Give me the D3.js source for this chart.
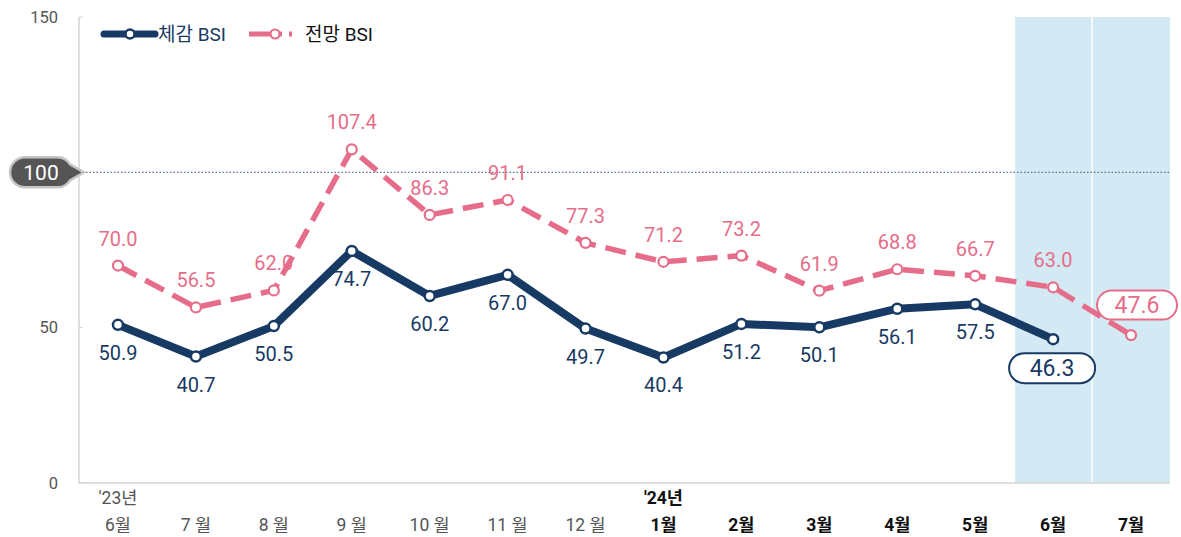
<!DOCTYPE html>
<html><head><meta charset="utf-8">
<script src="https://cdn.jsdelivr.net/npm/d3@7"></script>
<style>body{margin:0;background:#fff}svg{display:block;font-family:Roboto,"Noto Sans CJK KR",sans-serif}</style>
</head><body><svg id="c" width="1181" height="537"></svg>
<script>
const months = ["6월","7 월","8 월","9 월","10 월","11 월","12 월","1월","2월","3월","4월","5월","6월","7월"];
const yearLabels = ["'23년","","","","","","","'24년","","","","","",""];
const boldMonths = [false,false,false,false,false,false,false,true,true,true,true,true,true,true];
const actualBSI = [50.9,40.7,50.5,74.7,60.2,67.0,49.7,40.4,51.2,50.1,56.1,57.5,46.3];
const outlookBSI = [70.0,56.5,62.0,107.4,86.3,91.1,77.3,71.2,73.2,61.9,68.8,66.7,63.0,47.6];
const yTicks = [0,50,100,150];

const svg = d3.select("#c");
const L=79, R=1170, T=17, B=483;
const x = d3.scaleBand().domain(d3.range(months.length)).range([L,R]);
const y = d3.scaleLinear().domain([0,150]).range([B,T]);
const cx = i => x(i)+x.bandwidth()/2;
const NAVY="#173a64", PINK="#e66d89";

// shaded region
svg.append("rect").attr("x",x(12)+1).attr("y",T).attr("width",R-x(12)-1).attr("height",B-T).attr("fill","#d3eaf4");
svg.append("line").attr("x1",x(13)).attr("x2",x(13)).attr("y1",T).attr("y2",B).attr("stroke","#fff").attr("stroke-width",1.5);

// axes
svg.append("line").attr("x1",L).attr("x2",L).attr("y1",T).attr("y2",B).attr("stroke","#d4d4d4").attr("stroke-width",1.5);
svg.append("line").attr("x1",L).attr("x2",R).attr("y1",B).attr("y2",B).attr("stroke","#d4d4d4").attr("stroke-width",1.5);
yTicks.forEach(t=>{
  if(t!==100){
    svg.append("line").attr("x1",L).attr("x2",L+4).attr("y1",y(t)).attr("y2",y(t)).attr("stroke","#d4d4d4");
    svg.append("text").attr("x",58).attr("y",y(t)).attr("dy","0.35em").attr("text-anchor","end").attr("font-size",16.5).attr("fill","#555").text(t);
  }
});
// 100 line
svg.append("line").attr("x1",L).attr("x2",R).attr("y1",y(100)).attr("y2",y(100)).attr("stroke","#5a6f95").attr("stroke-width",1.2).attr("stroke-dasharray","1.5,2");
// 100 callout
const cy100=y(100);
svg.append("path").attr("d",`M25,${cy100-15} H58 A15,15 0 0 1 70,${cy100-8} L84,${cy100} L70,${cy100+8} A15,15 0 0 1 58,${cy100+15} H25 A15,15 0 0 1 25,${cy100-15} Z`)
  .attr("fill","#555").attr("stroke","#c4c4c4").attr("stroke-width",2.5);
svg.append("text").attr("x",41).attr("y",cy100).attr("dy","0.36em").attr("text-anchor","middle").attr("font-size",21).attr("fill","#fff").text("100");

// x labels
months.forEach((m,i)=>{
  svg.append("text").attr("x",cx(i)).attr("y",531).attr("text-anchor","middle").attr("font-size",17.5)
    .attr("font-weight",boldMonths[i]?"bold":"normal").attr("fill",boldMonths[i]?"#111":"#555").text(m);
  if(yearLabels[i]) svg.append("text").attr("x",cx(i)).attr("y",504).attr("text-anchor","middle").attr("font-size",17.5)
    .attr("font-weight",boldMonths[i]?"bold":"normal").attr("fill",boldMonths[i]?"#111":"#555").text(yearLabels[i]);
});

// lines
const line = d3.line().x((d,i)=>cx(i)).y(d=>y(d));
svg.append("path").datum(outlookBSI).attr("d",line).attr("fill","none").attr("stroke",PINK).attr("stroke-width",5.5).attr("stroke-dasharray","21,10");
svg.append("path").datum(actualBSI).attr("d",line).attr("fill","none").attr("stroke",NAVY).attr("stroke-width",8).attr("stroke-linejoin","round");
svg.selectAll(".po").data(outlookBSI).join("circle").attr("cx",(d,i)=>cx(i)).attr("cy",d=>y(d)).attr("r",5).attr("fill","#fff").attr("stroke",PINK).attr("stroke-width",2.2);
svg.selectAll(".pa").data(actualBSI).join("circle").attr("cx",(d,i)=>cx(i)).attr("cy",d=>y(d)).attr("r",5).attr("fill","#fff").attr("stroke",NAVY).attr("stroke-width",2.5);

// data labels
outlookBSI.forEach((v,i)=>{
  if(i===outlookBSI.length-1){
    const bx=cx(i)+6, by=y(v)-30;
    svg.append("rect").attr("x",bx-40).attr("y",by-14.5).attr("width",80).attr("height",29).attr("rx",14.5).attr("fill","#fff").attr("stroke",PINK).attr("stroke-width",2);
    svg.append("text").attr("x",bx).attr("y",by).attr("dy","0.36em").attr("text-anchor","middle").attr("font-size",23).attr("fill",PINK).text(v.toFixed(1));
  } else {
    svg.append("text").attr("x",cx(i)).attr("y",y(v)-20).attr("text-anchor","middle").attr("font-size",20).attr("fill",PINK).text(v.toFixed(1));
  }
});
actualBSI.forEach((v,i)=>{
  if(i===actualBSI.length-1){
    const bx=cx(i)-1, by=y(v)+29;
    svg.append("rect").attr("x",bx-43).attr("y",by-15).attr("width",86).attr("height",30).attr("rx",15).attr("fill","#fff").attr("stroke",NAVY).attr("stroke-width",2);
    svg.append("text").attr("x",bx).attr("y",by).attr("dy","0.36em").attr("text-anchor","middle").attr("font-size",23).attr("fill",NAVY).text(v.toFixed(1));
  } else {
    svg.append("text").attr("x",cx(i)).attr("y",y(v)+35).attr("text-anchor","middle").attr("font-size",20).attr("fill",NAVY).text(v.toFixed(1));
  }
});

// legend
svg.append("line").attr("x1",104).attr("x2",155).attr("y1",34).attr("y2",34).attr("stroke",NAVY).attr("stroke-width",7).attr("stroke-linecap","round");
svg.append("circle").attr("cx",130).attr("cy",34).attr("r",4.5).attr("fill","#fff").attr("stroke",NAVY).attr("stroke-width",2.5);
svg.append("text").attr("x",158).attr("y",34).attr("dy","0.36em").attr("font-size",19).attr("fill",NAVY).text("체감 BSI");
svg.append("line").attr("x1",249).attr("x2",302).attr("y1",34).attr("y2",34).attr("stroke",PINK).attr("stroke-width",5).attr("stroke-dasharray","22,4,7,7,3,100");
svg.append("circle").attr("cx",275).attr("cy",34).attr("r",4.5).attr("fill","#fff").attr("stroke",PINK).attr("stroke-width",2.2);
svg.append("text").attr("x",305).attr("y",34).attr("dy","0.36em").attr("font-size",19).attr("fill","#111").text("전망 BSI");
</script></body></html>
